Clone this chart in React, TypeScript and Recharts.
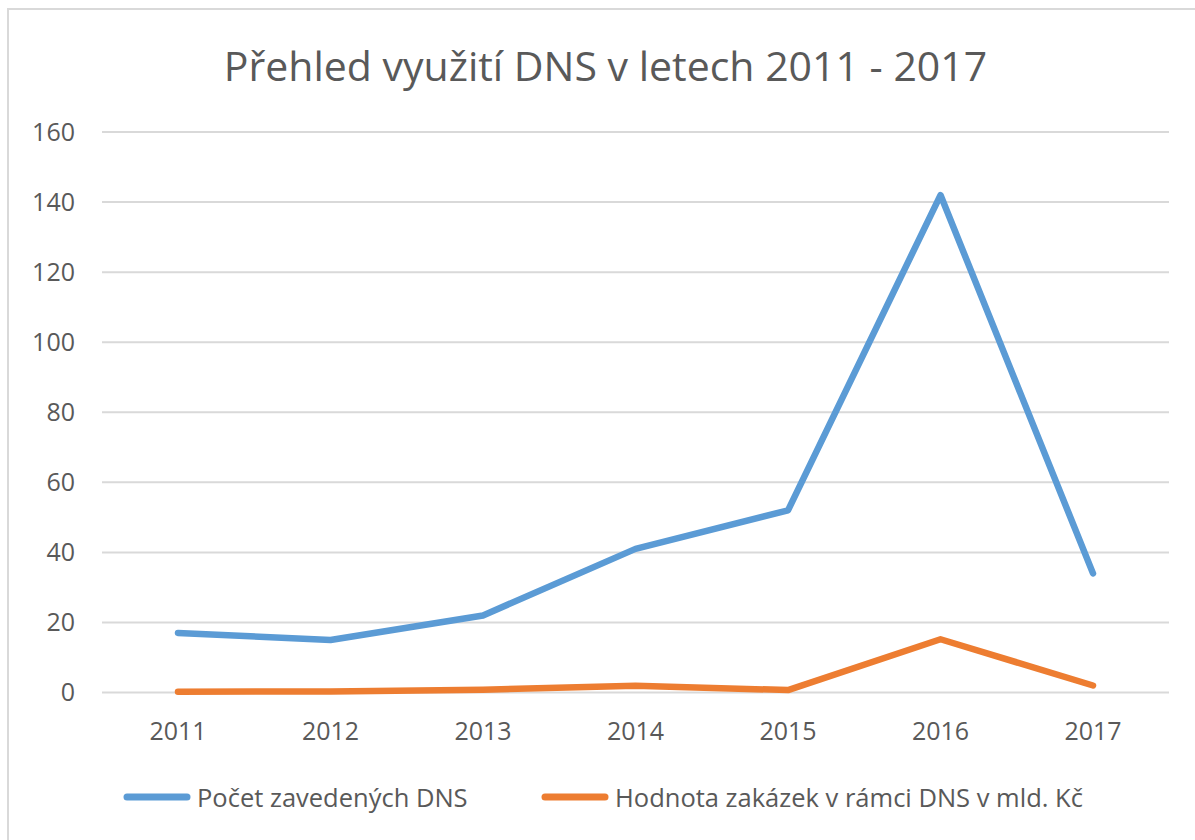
import { CartesianGrid, Legend, Line, LineChart, XAxis, YAxis } from "recharts";

const years = ["2011", "2012", "2013", "2014", "2015", "2016", "2017"];
const dnsCount = [17, 15, 22, 41, 52, 142, 34];
const contractValue = [0.2, 0.3, 0.8, 1.9, 0.7, 15.2, 2];
const yTicks = [0, 20, 40, 60, 80, 100, 120, 140, 160];

const series = [
  { key: "dns", name: "Počet zavedených DNS", color: "#5B9BD5" },
  { key: "value", name: "Hodnota zakázek v rámci DNS v mld. Kč", color: "#ED7D31" },
];

const data = years.map((y, i) => ({ year: y, dns: dnsCount[i], value: contractValue[i] }));

const font = "'Open Sans', 'Liberation Sans', sans-serif";
const textColor = "#595959";

const axisTick = { fill: textColor, fontSize: 25, fontFamily: font } as const;

function LegendContent() {
  return (
    <div style={{ display: "flex", alignItems: "center", fontFamily: font, fontSize: 25.5, color: textColor }}>
      {series.map((s, i) => (
        <div key={s.key} style={{ display: "flex", alignItems: "center", width: i === 0 ? 418 : "auto" }}>
          <svg width={66} height={10} style={{ marginRight: 7, overflow: "visible" }}>
            <line x1={3} y1={5} x2={63} y2={5} stroke={s.color} strokeWidth={7} strokeLinecap="round" />
          </svg>
          <span style={{ whiteSpace: "nowrap" }}>{s.name}</span>
        </div>
      ))}
    </div>
  );
}

export default function App() {
  return (
    <div style={{ position: "absolute", left: 0, top: 0, width: 1195, height: 840, background: "#fff" }}>
      <div
        style={{
          position: "absolute",
          left: 7,
          top: 8,
          width: 1186,
          height: 830,
          borderLeft: "2px solid #d9d9d9",
          borderTop: "2px solid #d9d9d9",
        }}
      />
      <div
        style={{
          position: "absolute",
          left: 0,
          top: 37,
          width: 1211,
          textAlign: "center",
          fontFamily: font,
          fontSize: 41,
          color: textColor,
          whiteSpace: "nowrap",
        }}
      >
        Přehled využití DNS v letech 2011 - 2017
      </div>
      <div style={{ position: "absolute", left: 0, top: 0 }}>
        <LineChart width={1195} height={840} data={data} margin={{ top: 132, right: 26, left: 0, bottom: 87.5 }}>
          <CartesianGrid horizontal vertical={false} stroke="#d9d9d9" strokeWidth={2} />
          <XAxis
            dataKey="year"
            height={60}
            padding={{ left: 76, right: 76 }}
            axisLine={false}
            tickLine={false}
            tickSize={0}
            tickMargin={30}
            tick={axisTick}
            interval={0}
          />
          <YAxis
            width={102}
            domain={[0, 160]}
            ticks={yTicks}
            axisLine={false}
            tickLine={false}
            tickSize={0}
            tickMargin={27}
            tick={axisTick}
          />
          <Legend
            layout="horizontal"
            verticalAlign="middle"
            content={<LegendContent />}
            wrapperStyle={{ top: 780, left: 124, width: "auto" }}
          />
          {series.map((s) => (
            <Line
              key={s.key}
              type="linear"
              dataKey={s.key}
              name={s.name}
              stroke={s.color}
              strokeWidth={6.5}
              strokeLinecap="round"
              strokeLinejoin="round"
              dot={false}
              activeDot={false}
              isAnimationActive={false}
            />
          ))}
        </LineChart>
      </div>
    </div>
  );
}
